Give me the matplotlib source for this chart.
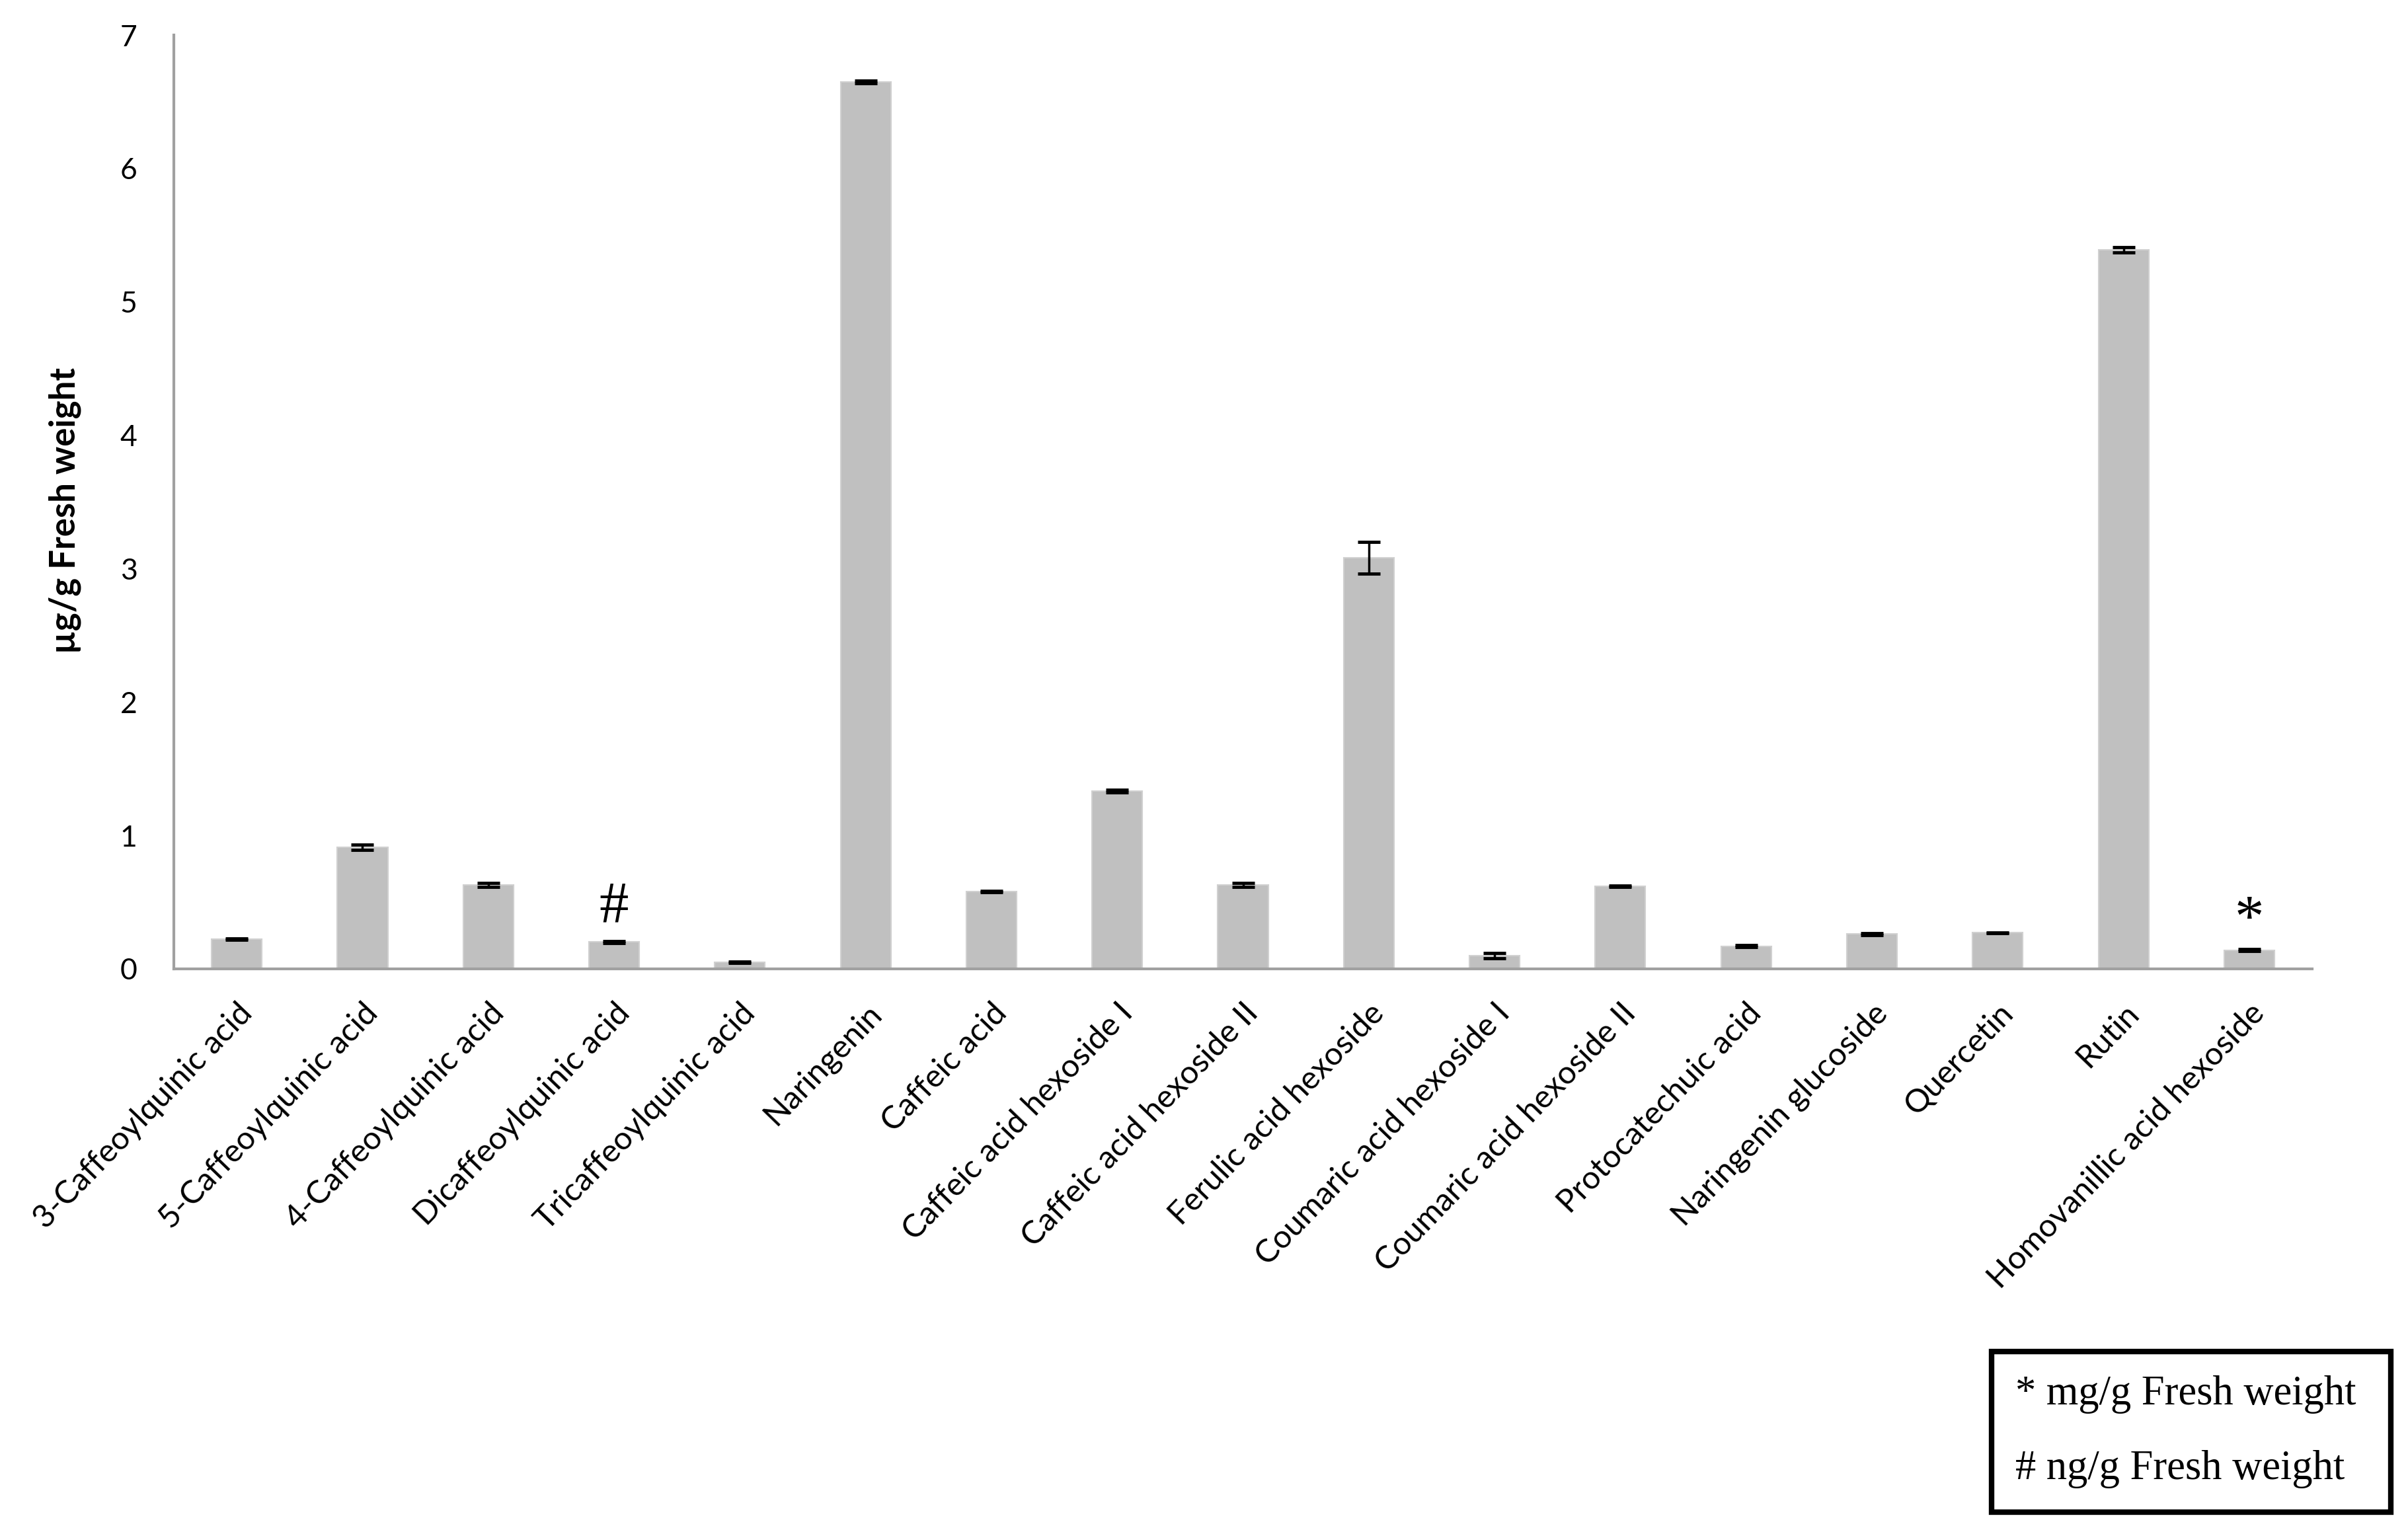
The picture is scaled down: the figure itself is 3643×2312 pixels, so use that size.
import matplotlib
matplotlib.use("Agg")
import matplotlib.pyplot as plt
from matplotlib.patches import Rectangle
import numpy as np

# compounds and their contents (ug/g fresh weight unless marked)
compuestos = ['3-Caffeoylquinic acid', '5-Caffeoylquinic acid', '4-Caffeoylquinic acid',
              'Dicaffeoylquinic acid', 'Tricaffeoylquinic acid', 'Naringenin',
              'Caffeic acid', 'Caffeic acid hexoside I', 'Caffeic acid hexoside II',
              'Ferulic acid hexoside', 'Coumaric acid hexoside I', 'Coumaric acid hexoside II',
              'Protocatechuic acid', 'Naringenin glucoside', 'Quercetin', 'Rutin',
              'Homovanillic acid hexoside']
medias = [0.22, 0.91, 0.63, 0.20, 0.05, 6.65, 0.58, 1.33, 0.63, 3.08,
          0.10, 0.62, 0.17, 0.26, 0.27, 5.39, 0.14]
errores = [0.005, 0.02, 0.015, 0.006, 0.005, 0.01, 0.005, 0.01, 0.015, 0.12,
           0.02, 0.005, 0.005, 0.006, 0.004, 0.02, 0.006]
marcas = {3: ('#', 0.46), 16: ('*', 0.36)}

fig = plt.figure(figsize=(36.43, 23.12), dpi=100)
ax = fig.add_axes([0.0722, 0.366, 0.888, 0.611])

x = np.arange(len(compuestos))
ax.bar(x, medias, width=0.4, color='#c0c0c0', edgecolor='#d0d0d0', linewidth=1.5,
       yerr=errores, capsize=12, error_kw={'ecolor': 'black', 'elinewidth': 2.5, 'capthick': 3.5})

for i, (s, yy) in marcas.items():
    ax.text(i, yy, s, ha='center', va='center', fontsize=64, family='Liberation Serif')

ax.set_xlim(-0.5, len(compuestos) - 0.5)
ax.set_ylim(0, 7)
ax.set_yticks(range(0, 8))
ax.set_yticklabels([str(v) for v in range(0, 8)], family='Lato', fontsize=32)
ax.set_xticks(x)
ax.set_xticklabels(compuestos, rotation=46, ha='right', va='top', rotation_mode='anchor',
                   family='Lato', fontsize=35)
ax.tick_params(axis='both', length=0, pad=40)
ax.tick_params(axis='x', pad=32)
for s in ['top', 'right']:
    ax.spines[s].set_visible(False)
for s in ['left', 'bottom']:
    ax.spines[s].set_color('#a0a0a0')
    ax.spines[s].set_linewidth(3)

fig.text(0.027, 0.666, 'µg/g Fresh weight', rotation=90, ha='center', va='center',
         fontsize=38, fontweight='bold', family='Lato')

# legend box for units
fig.patches.append(Rectangle((0.827, 0.0104), 0.166, 0.105, transform=fig.transFigure,
                             fill=False, edgecolor='black', linewidth=6))
fig.text(0.837, 0.0874, '* mg/g Fresh weight', ha='left', va='center', fontsize=45,
         family='Liberation Serif')
fig.text(0.837, 0.0385, '# ng/g Fresh weight', ha='left', va='center', fontsize=45,
         family='Liberation Serif')

fig.savefig('out.png', dpi=100)
